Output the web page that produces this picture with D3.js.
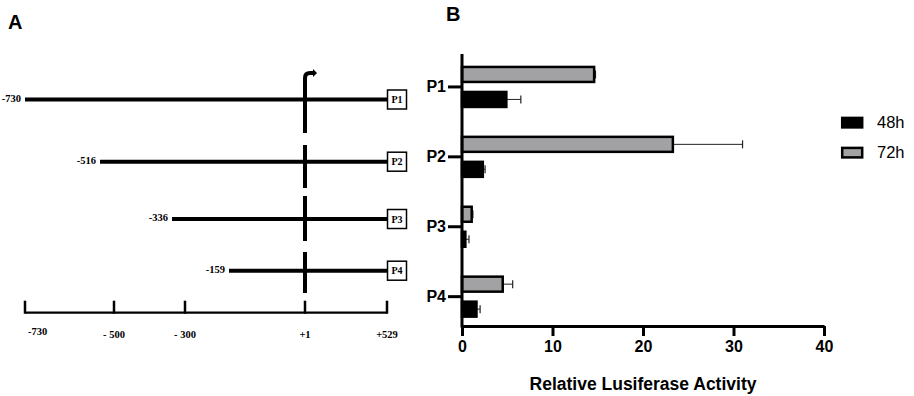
<!DOCTYPE html>
<html>
<head>
<meta charset="utf-8">
<script src="https://cdn.jsdelivr.net/npm/d3@7"></script>
<style>
  body { margin: 0; background: #fff; }
  svg { display: block; }
</style>
</head>
<body>
<div id="chart"></div>
<script>
// Panel A: promoter fragments
const fragments = ["P1", "P2", "P3", "P4"];
const fragmentStart = [-730, -516, -336, -159];
const fragmentEnd = [529, 529, 529, 529];
const mapTicks = [-730, -500, -300, 1, 529];
const mapTickLabels = ["-730", "- 500", "- 300", "+1", "+529"];

// Panel B: luciferase activity
const categories = ["P1", "P2", "P3", "P4"];
const series = ["72h", "48h"];
const legendOrder = ["48h", "72h"];
const mean48 = [4.9, 2.3, 0.37, 1.6];
const err48 = [1.6, 0.25, 0.4, 0.4];
const mean72 = [14.6, 23.3, 1.07, 4.5];
const err72 = [0.15, 7.7, 0.13, 1.1];
const xTicksB = [0, 10, 20, 30, 40];

const width = 914, height = 396;
const svg = d3.select("#chart").append("svg")
    .attr("width", width)
    .attr("height", height);

const sans = "'Liberation Sans', Arial, sans-serif";
const serif = "'Liberation Serif', 'Times New Roman', serif";

// ---------- Panel A ----------
// schematic, not drawn to scale: piecewise map
const xA = d3.scaleLinear()
    .domain([-730, -516, -500, -336, -300, -159, 1, 529])
    .range([25, 100, 114, 172, 185, 229, 305, 387]);
const yA = d3.scaleOrdinal()
    .domain(fragments)
    .range([99.5, 161.7, 219, 270.7]);

const gA = svg.append("g");

gA.append("text")
    .attr("x", 8).attr("y", 29)
    .attr("font-family", sans).attr("font-weight", "bold")
    .attr("font-size", 20)
    .text("A");

// fragment lines
gA.selectAll("line.frag")
    .data(fragments)
    .join("line")
    .attr("class", "frag")
    .attr("x1", (d, i) => xA(fragmentStart[i]))
    .attr("x2", (d, i) => xA(fragmentEnd[i]))
    .attr("y1", d => yA(d))
    .attr("y2", d => yA(d))
    .attr("stroke", "#000")
    .attr("stroke-width", 4);

// start position labels
gA.selectAll("text.start")
    .data(fragments)
    .join("text")
    .attr("class", "start")
    .attr("x", (d, i) => xA(fragmentStart[i]) - 4)
    .attr("y", d => yA(d) + 2)
    .attr("text-anchor", "end")
    .attr("font-family", serif).attr("font-weight", "bold")
    .attr("font-size", 10.5)
    .text((d, i) => fragmentStart[i]);

// vertical dashed line at +1 with TSS arrow
const x1 = xA(1);
gA.append("path")
    .attr("d", `M${x1},133 V78 Q${x1},73 ${x1 + 5},73 H${x1 + 8}`)
    .attr("fill", "none")
    .attr("stroke", "#000")
    .attr("stroke-width", 4);
gA.append("path")
    .attr("d", `M${x1 + 8},69 L${x1 + 12},73 L${x1 + 8},77 Z`)
    .attr("fill", "#000");
gA.append("line")
    .attr("x1", x1).attr("x2", x1)
    .attr("y1", 145).attr("y2", 293)
    .attr("stroke", "#000")
    .attr("stroke-width", 4)
    .attr("stroke-dasharray", "43,8,45,11,41");

// boxes at the end
const boxes = gA.selectAll("g.box")
    .data(fragments)
    .join("g")
    .attr("class", "box")
    .attr("transform", (d, i) => `translate(${xA(fragmentEnd[i])},${yA(d)})`);
boxes.append("rect")
    .attr("x", 0.5).attr("y", -9.5)
    .attr("width", 19).attr("height", 19)
    .attr("fill", "#fff")
    .attr("stroke", "#000")
    .attr("stroke-width", 1.5);
boxes.append("text")
    .attr("x", 10).attr("y", 3.5)
    .attr("text-anchor", "middle")
    .attr("font-family", serif).attr("font-weight", "bold")
    .attr("font-size", 10)
    .text(d => d);

// bottom map axis
const axisY = 312.7;
gA.append("line")
    .attr("x1", xA(-730)).attr("x2", xA(529))
    .attr("y1", axisY).attr("y2", axisY)
    .attr("stroke", "#000").attr("stroke-width", 2.3);
gA.selectAll("line.mtick")
    .data(mapTicks)
    .join("line")
    .attr("class", "mtick")
    .attr("x1", d => xA(d)).attr("x2", d => xA(d))
    .attr("y1", axisY + 1).attr("y2", axisY - 12)
    .attr("stroke", "#000").attr("stroke-width", 2.5);
gA.selectAll("text.mlabel")
    .data(mapTicks)
    .join("text")
    .attr("class", "mlabel")
    .attr("x", (d, i) => i === 0 ? xA(d) + 3 : xA(d))
    .attr("y", (d, i) => i === 0 ? 335 : 337.5)
    .attr("text-anchor", (d, i) => i === 0 ? "start" : "middle")
    .attr("font-family", serif).attr("font-weight", "bold")
    .attr("font-size", 10.5)
    .text((d, i) => mapTickLabels[i]);

// ---------- Panel B ----------
const xB = d3.scaleLinear().domain([0, 40]).range([462, 824]);
const yB = d3.scaleBand().domain(categories).range([52, 331.6]);
const ySub = d3.scaleBand().domain(series).range([-20, 20]).paddingInner(0.4);
const colors = { "48h": "#000", "72h": "#a2a2a5" };
const values = { "48h": mean48, "72h": mean72 };
const errors = { "48h": err48, "72h": err72 };
const baseY = 326;

const gB = svg.append("g");

gB.append("text")
    .attr("x", 446).attr("y", 21)
    .attr("font-family", sans).attr("font-weight", "bold")
    .attr("font-size", 20)
    .text("B");

const rows = [];
categories.forEach((c, i) => {
    series.forEach(s => rows.push({ cat: c, s: s, v: values[s][i], e: errors[s][i] }));
});

const center = d => yB(d.cat) + yB.bandwidth() / 2;

// error bars
gB.selectAll("line.err")
    .data(rows)
    .join("line")
    .attr("class", "err")
    .attr("x1", d => xB(d.v)).attr("x2", d => xB(d.v + d.e))
    .attr("y1", d => center(d) + ySub(d.s) + ySub.bandwidth() / 2)
    .attr("y2", d => center(d) + ySub(d.s) + ySub.bandwidth() / 2)
    .attr("stroke", "#222").attr("stroke-width", 1);
gB.selectAll("line.cap")
    .data(rows)
    .join("line")
    .attr("class", "cap")
    .attr("x1", d => xB(d.v + d.e)).attr("x2", d => xB(d.v + d.e))
    .attr("y1", d => center(d) + ySub(d.s) + ySub.bandwidth() / 2 - 4)
    .attr("y2", d => center(d) + ySub(d.s) + ySub.bandwidth() / 2 + 4)
    .attr("stroke", "#222").attr("stroke-width", 1.2);

// bars
gB.selectAll("rect.bar")
    .data(rows)
    .join("rect")
    .attr("class", "bar")
    .attr("x", xB(0))
    .attr("y", d => center(d) + ySub(d.s))
    .attr("width", d => xB(d.v) - xB(0))
    .attr("height", ySub.bandwidth())
    .attr("fill", d => colors[d.s])
    .attr("stroke", "#000")
    .attr("stroke-width", 2.5);

// x axis
const xAxis = gB.append("g")
    .attr("transform", `translate(0,${baseY})`)
    .call(d3.axisBottom(xB).tickValues(xTicksB).tickSize(10).tickPadding(5).tickSizeOuter(0));
xAxis.select(".domain").attr("stroke-width", 3);
xAxis.selectAll(".tick line").attr("stroke-width", 3);
xAxis.selectAll(".tick text")
    .attr("font-family", sans).attr("font-weight", "bold")
    .attr("font-size", 16).attr("fill", "#000");

// y axis
const yAxis = gB.append("g")
    .attr("transform", `translate(${xB(0)},0)`)
    .call(d3.axisLeft(yB).tickSize(14).tickPadding(2).tickSizeOuter(0));
yAxis.select(".domain").attr("d", `M0,54 V${baseY + 1.5}`).attr("stroke-width", 3);
yAxis.selectAll(".tick line").attr("stroke-width", 3);
yAxis.selectAll(".tick text")
    .attr("font-family", sans).attr("font-weight", "bold")
    .attr("font-size", 16).attr("fill", "#000");

gB.append("text")
    .attr("x", (xB(0) + xB(40)) / 2)
    .attr("y", 390)
    .attr("text-anchor", "middle")
    .attr("font-family", sans).attr("font-weight", "bold")
    .attr("font-size", 17.5)
    .text("Relative Lusiferase Activity");

// legend
const legend = gB.selectAll("g.legend")
    .data(legendOrder)
    .join("g")
    .attr("class", "legend")
    .attr("transform", (d, i) => `translate(841,${116.7 + i * 30})`);
legend.append("rect")
    .attr("x", 1.2).attr("y", 1.2)
    .attr("width", 20).attr("height", 9.5)
    .attr("fill", d => colors[d])
    .attr("stroke", "#000").attr("stroke-width", 2.5);
legend.append("text")
    .attr("x", 36).attr("y", 11.6)
    .attr("font-family", sans)
    .attr("font-size", 16.5)
    .text(d => d);
</script>
</body>
</html>
